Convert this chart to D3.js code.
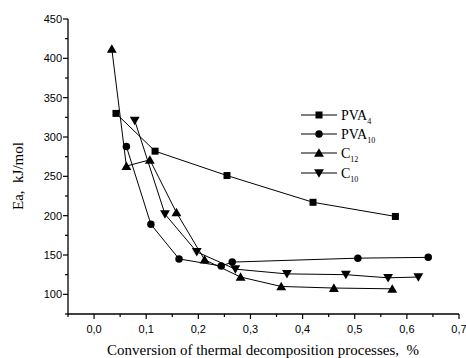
<!DOCTYPE html>
<html><head><meta charset="utf-8">
<script src="https://cdn.jsdelivr.net/npm/d3@7"></script>
<style>body{margin:0;background:#fff}svg{display:block}</style>
</head><body>
<script>
const pva4X = [0.042, 0.117, 0.255, 0.420, 0.578];
const pva4Y = [330, 282, 251, 217, 199];
const pva10X = [0.062, 0.109, 0.163, 0.244, 0.265, 0.506, 0.641];
const pva10Y = [288, 189, 145, 136, 141, 146, 147];
const c12X = [0.034, 0.062, 0.107, 0.158, 0.212, 0.281, 0.359, 0.460, 0.572];
const c12Y = [412, 263, 271, 204, 144, 122, 110, 108, 107];
const c10X = [0.078, 0.136, 0.197, 0.271, 0.370, 0.483, 0.564, 0.622];
const c10Y = [321, 202, 154, 132, 126, 125, 121, 122];
const xTicks = [0, 0.1, 0.2, 0.3, 0.4, 0.5, 0.6, 0.7];
const yTicks = [100, 150, 200, 250, 300, 350, 400, 450];
const seriesNames = [["PVA","4"],["PVA","10"],["C","12"],["C","10"]];

const W = 466, H = 358;
const svg = d3.select("body").append("svg").attr("width", W).attr("height", H);
const x = d3.scaleLinear().domain([-0.05, 0.7]).range([68, 459]);
const y = d3.scaleLinear().domain([75, 450]).range([314, 19]);

const tickFont = "'Liberation Sans', Arial, sans-serif";
const serif = "'Liberation Serif', 'Times New Roman', serif";

const xMinor = d3.range(-0.05, 0.7001, 0.1);
const yMinor = d3.range(75, 451, 50);
const gx = svg.append("g").attr("transform", `translate(0,${y(75)})`);
gx.append("line").attr("x1", x(-0.05)).attr("x2", x(0.7)).attr("stroke", "#000").attr("stroke-width", 1.3);
gx.selectAll(".mi").data(xMinor).enter().append("line")
  .attr("x1", d => x(d)).attr("x2", d => x(d)).attr("y1", 0).attr("y2", 3).attr("stroke", "#000").attr("stroke-width", 1.2);
gx.selectAll(".ma").data(xTicks).enter().append("line")
  .attr("x1", d => x(d)).attr("x2", d => x(d)).attr("y1", 0).attr("y2", 5).attr("stroke", "#000").attr("stroke-width", 1.2);
gx.selectAll("text").data(xTicks).enter().append("text")
  .attr("x", d => x(d)).attr("y", 19).attr("text-anchor", "middle")
  .attr("font-family", tickFont).attr("font-size", 11)
  .text(d => d3.format(".1f")(d).replace(".", ","));

const gy = svg.append("g").attr("transform", `translate(${x(-0.05)},0)`);
gy.append("line").attr("y1", y(75)).attr("y2", y(450)).attr("stroke", "#000").attr("stroke-width", 1.3);
gy.selectAll(".mi").data(yMinor).enter().append("line")
  .attr("y1", d => y(d)).attr("y2", d => y(d)).attr("x1", 0).attr("x2", -3).attr("stroke", "#000").attr("stroke-width", 1.2);
gy.selectAll(".ma").data(yTicks).enter().append("line")
  .attr("y1", d => y(d)).attr("y2", d => y(d)).attr("x1", 0).attr("x2", -5).attr("stroke", "#000").attr("stroke-width", 1.2);
gy.selectAll("text").data(yTicks).enter().append("text")
  .attr("x", -6).attr("y", d => y(d) + 4).attr("text-anchor", "end")
  .attr("font-family", tickFont).attr("font-size", 11).text(d => d);

svg.append("text").attr("x", 263).attr("y", 355).attr("text-anchor", "middle")
  .attr("font-family", serif).attr("font-size", 15).attr("xml:space", "preserve")
  .text("Conversion of thermal decomposition processes,  %");
svg.append("text").attr("transform", "translate(23,176) rotate(-90)").attr("text-anchor", "middle")
  .attr("font-family", serif).attr("font-size", 15).attr("xml:space", "preserve")
  .text("Ea,  kJ/mol");

const symbols = [
  d3.symbol().type(d3.symbolSquare).size(49),
  d3.symbol().type(d3.symbolCircle).size(44),
  d3.symbol().type(d3.symbolTriangle).size(42),
  d3.symbol().type(d3.symbolTriangle).size(42)
];
const rot = [0, 0, 0, 180];
const series = [[pva4X, pva4Y], [pva10X, pva10Y], [c12X, c12Y], [c10X, c10Y]];
const line = d3.line().x(d => x(d[0])).y(d => y(d[1]));

series.forEach((s, i) => {
  const pts = s[0].map((v, j) => [v, s[1][j]]);
  svg.append("path").attr("d", line(pts)).attr("fill", "none").attr("stroke", "#000").attr("stroke-width", 1);
  svg.selectAll(".m" + i).data(pts).enter().append("path")
    .attr("d", symbols[i])
    .attr("transform", d => `translate(${x(d[0])},${y(d[1]) + (i >= 2 ? (i === 2 ? 1 : -1) : 0)}) rotate(${rot[i]})`)
    .attr("fill", "#000");
});

const lg = svg.append("g");
const rowsY = [115, 134, 153, 173];
seriesNames.forEach((n, i) => {
  const yy = rowsY[i];
  lg.append("line").attr("x1", 301).attr("x2", 337).attr("y1", yy).attr("y2", yy).attr("stroke", "#000").attr("stroke-width", 1);
  lg.append("path").attr("d", symbols[i])
    .attr("transform", `translate(319,${yy + (i >= 2 ? (i === 2 ? 1 : -1) : 0)}) rotate(${rot[i]})`).attr("fill", "#000");
  const t = lg.append("text").attr("x", 341).attr("y", yy + 5)
    .attr("font-family", serif).attr("font-size", 14);
  t.append("tspan").text(n[0]);
  t.append("tspan").attr("font-size", 8).attr("dy", 4).text(n[1]);
});
</script>
</body></html>
